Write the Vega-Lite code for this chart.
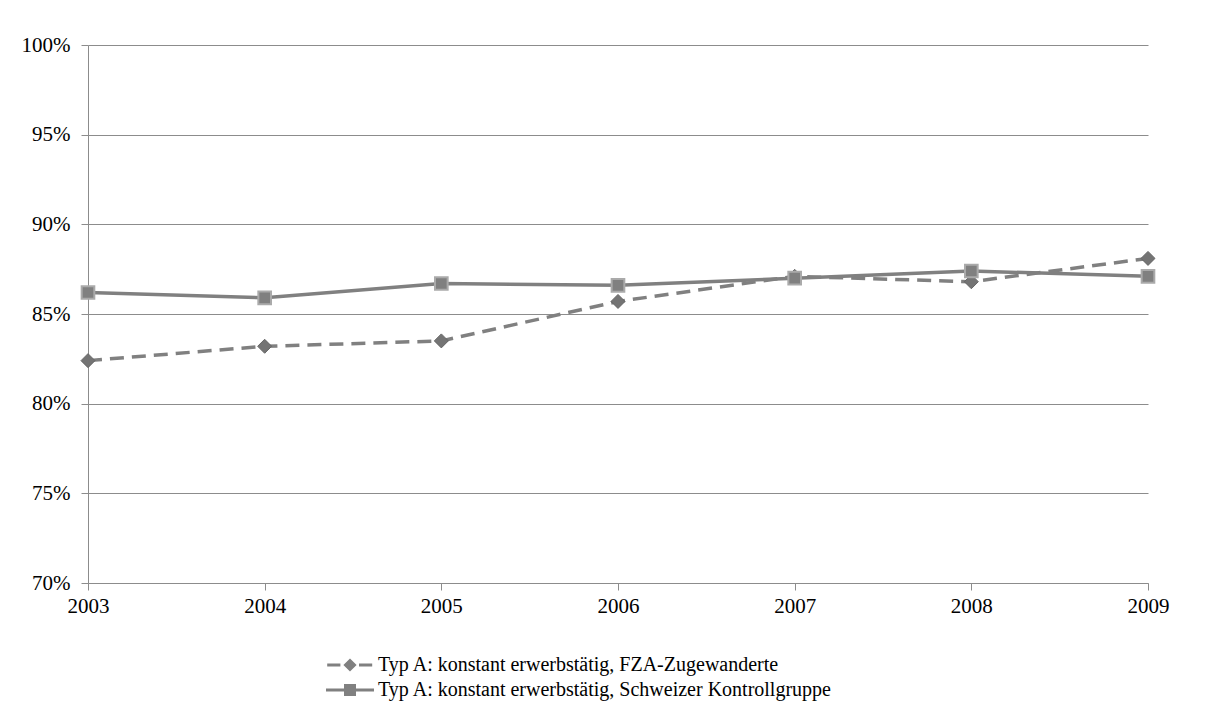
{
  "$schema": "https://vega.github.io/schema/vega-lite/v6.json",
  "width": 1060,
  "height": 538,
  "autosize": "none",
  "padding": {"left": 88, "top": 45, "right": 61, "bottom": 133},
  "background": "white",
  "config": {"view": {"stroke": null}, "font": "Liberation Serif"},
  "data": {
    "values": [
      {"year": 2003, "value": 0.824, "series": "Typ A: konstant erwerbstätig, FZA-Zugewanderte"},
      {"year": 2004, "value": 0.832, "series": "Typ A: konstant erwerbstätig, FZA-Zugewanderte"},
      {"year": 2005, "value": 0.835, "series": "Typ A: konstant erwerbstätig, FZA-Zugewanderte"},
      {"year": 2006, "value": 0.857, "series": "Typ A: konstant erwerbstätig, FZA-Zugewanderte"},
      {"year": 2007, "value": 0.871, "series": "Typ A: konstant erwerbstätig, FZA-Zugewanderte"},
      {"year": 2008, "value": 0.868, "series": "Typ A: konstant erwerbstätig, FZA-Zugewanderte"},
      {"year": 2009, "value": 0.881, "series": "Typ A: konstant erwerbstätig, FZA-Zugewanderte"},
      {"year": 2003, "value": 0.862, "series": "Typ A: konstant erwerbstätig, Schweizer Kontrollgruppe"},
      {"year": 2004, "value": 0.859, "series": "Typ A: konstant erwerbstätig, Schweizer Kontrollgruppe"},
      {"year": 2005, "value": 0.867, "series": "Typ A: konstant erwerbstätig, Schweizer Kontrollgruppe"},
      {"year": 2006, "value": 0.866, "series": "Typ A: konstant erwerbstätig, Schweizer Kontrollgruppe"},
      {"year": 2007, "value": 0.870, "series": "Typ A: konstant erwerbstätig, Schweizer Kontrollgruppe"},
      {"year": 2008, "value": 0.874, "series": "Typ A: konstant erwerbstätig, Schweizer Kontrollgruppe"},
      {"year": 2009, "value": 0.871, "series": "Typ A: konstant erwerbstätig, Schweizer Kontrollgruppe"}
    ]
  },
  "encoding": {
    "x": {
      "field": "year", "type": "quantitative",
      "scale": {"domain": [2003, 2009], "nice": false, "zero": false},
      "axis": {
        "title": null, "values": [2003, 2004, 2005, 2006, 2007, 2008, 2009], "format": "d",
        "grid": false, "tickSize": 7, "tickColor": "#8c8c8c", "domainColor": "#8c8c8c",
        "labelPadding": 5, "labelFontSize": 21, "labelColor": "black", "labelFont": "Liberation Serif",
        "labelFlush": false, "labelOverlap": false
      }
    },
    "y": {
      "field": "value", "type": "quantitative",
      "scale": {"domain": [0.7, 1.0], "nice": false, "zero": false},
      "axis": {
        "title": null, "values": [0.7, 0.75, 0.8, 0.85, 0.9, 0.95, 1.0], "format": ".0%",
        "grid": true, "gridColor": "#8c8c8c", "tickSize": 7, "tickColor": "#8c8c8c", "domainColor": "#8c8c8c",
        "labelPadding": 11, "labelFontSize": 21, "labelColor": "black", "labelFont": "Liberation Serif",
        "labelFlush": false, "labelOverlap": false
      }
    }
  },
  "layer": [
    {
      "transform": [{"filter": "datum.series === 'Typ A: konstant erwerbstätig, FZA-Zugewanderte'"}],
      "mark": {"type": "line", "color": "#808080", "strokeWidth": 3.5, "strokeDash": [14, 8]}
    },
    {
      "transform": [{"filter": "datum.series === 'Typ A: konstant erwerbstätig, FZA-Zugewanderte'"}],
      "mark": {"type": "point", "shape": "diamond", "size": 196, "filled": true, "fill": "#747474", "stroke": "#666666", "strokeWidth": 1, "opacity": 1}
    },
    {
      "transform": [{"filter": "datum.series === 'Typ A: konstant erwerbstätig, Schweizer Kontrollgruppe'"}],
      "mark": {"type": "line", "color": "#808080", "strokeWidth": 3.5}
    },
    {
      "transform": [{"filter": "datum.series === 'Typ A: konstant erwerbstätig, Schweizer Kontrollgruppe'"}],
      "mark": {"type": "point", "shape": "square", "size": 160, "filled": true, "fill": "#808080", "stroke": "#aaaaaa", "strokeWidth": 2, "opacity": 1}
    },
    {
      "transform": [{"filter": "false"}],
      "mark": {"type": "point", "filled": true, "fill": "#808080", "opacity": 1},
      "encoding": {
        "shape": {
          "field": "series", "type": "nominal",
          "scale": {
            "domain": ["Typ A: konstant erwerbstätig, FZA-Zugewanderte", "Typ A: konstant erwerbstätig, Schweizer Kontrollgruppe"],
            "range": [
              "M-1.9,-0.13H-0.8V0.13H-1.9Z M0.75,-0.13H1.85V0.13H0.75Z M-0.55,0L0,-0.55L0.55,0L0,0.55Z",
              "M-2,-0.13H2V0.13H-2Z M-0.5,-0.5H0.5V0.5H-0.5Z"
            ]
          },
          "legend": {
            "title": null, "orient": "none", "legendX": 250, "legendY": 608, "direction": "vertical",
            "symbolSize": 576, "symbolStrokeWidth": 0, "symbolFillColor": "#808080",
            "labelFont": "Liberation Serif", "labelFontSize": 20, "labelColor": "black", "labelOffset": 16,
            "labelLimit": 0, "rowPadding": 3, "padding": 0,
            "encode": {"symbols": {"update": {"fill": {"value": "#808080"}, "opacity": {"value": 1}}}}
          }
        }
      }
    }
  ]
}
